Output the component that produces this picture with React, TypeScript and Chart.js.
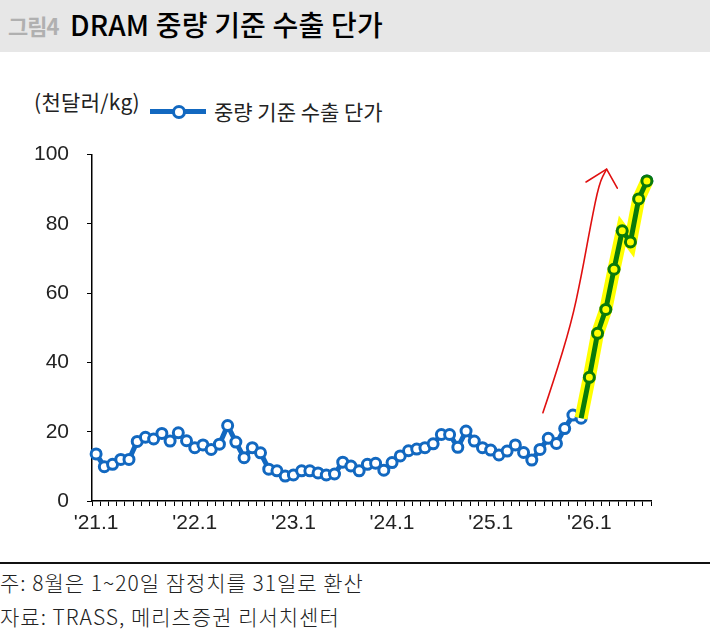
import { useEffect, useRef } from 'react';
import { Chart, registerables } from 'chart.js';

Chart.register(...registerables);

const months = [
  "'21.1", "'21.2", "'21.3", "'21.4", "'21.5", "'21.6", "'21.7", "'21.8", "'21.9", "'21.10", "'21.11", "'21.12",
  "'22.1", "'22.2", "'22.3", "'22.4", "'22.5", "'22.6", "'22.7", "'22.8", "'22.9", "'22.10", "'22.11", "'22.12",
  "'23.1", "'23.2", "'23.3", "'23.4", "'23.5", "'23.6", "'23.7", "'23.8", "'23.9", "'23.10", "'23.11", "'23.12",
  "'24.1", "'24.2", "'24.3", "'24.4", "'24.5", "'24.6", "'24.7", "'24.8", "'24.9", "'24.10", "'24.11", "'24.12",
  "'25.1", "'25.2", "'25.3", "'25.4", "'25.5", "'25.6", "'25.7", "'25.8", "'25.9", "'25.10", "'25.11", "'25.12",
  "'26.1", "'26.2", "'26.3", "'26.4", "'26.5", "'26.6", "'26.7", "'26.8",
];

// 천달러/kg
const unitPrice = [
  13.6, 9.9, 10.6, 12.0, 12.0, 17.2, 18.4, 17.9, 19.5, 17.3, 19.7, 17.4,
  15.4, 16.2, 14.9, 16.4, 21.8, 17.0, 12.5, 15.4, 13.9, 9.2, 8.7, 7.2,
  7.5, 8.7, 8.7, 8.1, 7.5, 7.8, 11.2, 10.1, 8.7, 10.6, 10.9, 8.9,
  11.1, 13.0, 14.5, 15.0, 15.4, 16.5, 19.2, 19.2, 15.5, 20.2, 17.3, 15.4,
  14.7, 13.3, 14.4, 16.2, 14.0, 11.8, 14.9, 18.1, 16.6, 20.9, 24.8, 23.9,
  35.7, 48.4, 55.3, 66.9, 78.0, 74.8, 87.2, 92.4,
];

const highlightFrom = 59;
const yTicks = [0, 20, 40, 60, 80, 100];

// hand-drawn red arrow, in (category index, value)
const arrowPath = [
  [54.35, 25.5], [55.7, 34.9], [57.8, 51.4], [59.0, 64.6], [60.2, 80.2], [61.2, 91.8], [62.1, 95.8],
];
const arrowHead = [[59.6, 92.1], [62.1, 95.8], [63.4, 90.3]];

const BLUE = '#1268c0';
const tickFont = { family: "'Liberation Sans', Arial, sans-serif", size: 21 };

const arrowPlugin = {
  id: 'redArrow',
  afterDatasetsDraw(chart: any) {
    const { ctx, scales } = chart;
    const px = (p: number[]) => [scales.x.getPixelForValue(p[0]), scales.y.getPixelForValue(p[1])];
    ctx.save();
    ctx.strokeStyle = '#e01010';
    ctx.lineWidth = 1.6;
    ctx.lineJoin = 'round';
    ctx.lineCap = 'round';
    ctx.beginPath();
    const pts = arrowPath.map(px);
    ctx.moveTo(pts[0][0], pts[0][1]);
    for (let i = 1; i < pts.length - 1; i++) {
      const mx = (pts[i][0] + pts[i + 1][0]) / 2;
      const my = (pts[i][1] + pts[i + 1][1]) / 2;
      ctx.quadraticCurveTo(pts[i][0], pts[i][1], mx, my);
    }
    const last = pts[pts.length - 1];
    ctx.lineTo(last[0], last[1]);
    ctx.stroke();
    const head = arrowHead.map(px);
    ctx.beginPath();
    ctx.moveTo(head[0][0], head[0][1]);
    ctx.lineTo(head[1][0], head[1][1]);
    ctx.lineTo(head[2][0], head[2][1]);
    ctx.stroke();
    ctx.restore();
  },
};

const PriceChart = () => {
  const canvasRef = useRef<HTMLCanvasElement>(null);
  const chartRef = useRef<Chart | null>(null);

  useEffect(() => {
    if (!canvasRef.current) return;
    if (chartRef.current) chartRef.current.destroy();
    const ctx = canvasRef.current.getContext('2d');
    if (!ctx) return;

    const highlight = unitPrice.map((v, i) => (i >= highlightFrom ? v : null));
    // first highlighted month keeps its blue marker
    const greenRadius = unitPrice.map((_v, i) => (i > highlightFrom ? 5 : 0));

    chartRef.current = new Chart(ctx, {
      type: 'line',
      data: {
        labels: months,
        datasets: [
          {
            label: 'highlight-green',
            data: highlight,
            borderColor: '#0a7a0a',
            borderWidth: 5,
            pointRadius: greenRadius,
            pointBorderWidth: 3,
            pointBorderColor: '#0a7a0a',
            pointBackgroundColor: '#ffff00',
            tension: 0,
          },
          {
            label: 'highlight-yellow',
            data: highlight,
            borderColor: '#ffff00',
            borderWidth: 13,
            pointRadius: 0,
            tension: 0,
          },
          {
            label: '중량 기준 수출 단가',
            data: unitPrice,
            borderColor: BLUE,
            borderWidth: 5,
            pointRadius: 5,
            pointBorderWidth: 3,
            pointBorderColor: BLUE,
            pointBackgroundColor: '#ffffff',
            tension: 0,
          },
        ],
      },
      options: {
        responsive: true,
        maintainAspectRatio: false,
        animation: false,
        layout: { autoPadding: false, padding: { top: 0, right: 59, left: 0, bottom: 0 } },
        plugins: {
          legend: { display: false },
          tooltip: { enabled: false },
        },
        scales: {
          x: {
            type: 'category',
            offset: true,
            afterFit: (scale: any) => { scale.height = 44; },
            border: { display: true, color: '#000', width: 1.5 },
            grid: {
              offset: true,
              drawOnChartArea: false,
              drawTicks: true,
              tickLength: 5,
              color: '#000',
              lineWidth: 1,
            },
            ticks: {
              autoSkip: false,
              maxRotation: 0,
              padding: 5,
              color: '#222',
              font: tickFont,
              callback: (_v: any, i: number) => (i % 12 === 0 ? months[i] : ''),
            },
          },
          y: {
            min: 0,
            max: 100,
            afterFit: (scale: any) => { scale.width = 92; },
            afterBuildTicks: (scale: any) => { scale.ticks = yTicks.map(v => ({ value: v })); },
            border: { display: true, color: '#000', width: 1.5 },
            grid: {
              drawOnChartArea: false,
              drawTicks: true,
              tickLength: 5,
              color: '#000',
            },
            ticks: {
              padding: 18,
              color: '#222',
              font: tickFont,
            },
          },
        },
      },
      plugins: [arrowPlugin],
    });

    return () => {
      if (chartRef.current) {
        chartRef.current.destroy();
        chartRef.current = null;
      }
    };
  }, []);

  return <canvas ref={canvasRef} />;
};

const App = () => {
  useEffect(() => {
    document.body.style.margin = '0';
  }, []);

  const kr = "'Noto Sans CJK KR', 'Noto Sans', sans-serif";

  return (
    <div style={{ position: 'relative', width: 710, height: 630, background: '#fff', fontFamily: kr, overflow: 'hidden' }}>
      <div style={{ position: 'absolute', left: 0, top: 0, width: 710, height: 52, background: '#e7e7e7' }}>
        <span style={{ position: 'absolute', left: 8, top: 9, fontSize: 22, fontWeight: 700, color: '#b0b0b0', letterSpacing: -1 }}>그림4</span>
        <span style={{ position: 'absolute', left: 70, top: 4, fontSize: 28, fontWeight: 500, color: '#000', letterSpacing: 0.2 }}>
          DRAM 중량 기준 수출 단가
        </span>
      </div>

      <div style={{ position: 'absolute', left: 34, top: 86, fontSize: 21, color: '#222', letterSpacing: 0.3 }}>(천달러/kg)</div>
      <div style={{ position: 'absolute', left: 150, top: 109, width: 56, height: 5, background: BLUE }}>
        <div style={{ position: 'absolute', left: 22, top: -4.5, width: 8, height: 8, borderRadius: '50%', border: `3px solid ${BLUE}`, background: '#fff' }} />
      </div>
      <div style={{ position: 'absolute', left: 214, top: 96, fontSize: 21, color: '#222' }}>중량 기준 수출 단가</div>

      <div style={{ position: 'absolute', left: 0, top: 124, width: 710, height: 421 }}>
        <PriceChart />
      </div>

      <div style={{ position: 'absolute', left: 0, top: 562, width: 710, height: 2, background: '#111' }} />
      <div style={{ position: 'absolute', left: 0, top: 567, fontSize: 21, color: '#222', letterSpacing: 1, fontWeight: 300 }}>
        주: 8월은 1~20일 잠정치를 31일로 환산
      </div>
      <div style={{ position: 'absolute', left: 0, top: 601, fontSize: 21, color: '#222', letterSpacing: 1, fontWeight: 300 }}>
        자료: TRASS, 메리츠증권 리서치센터
      </div>
    </div>
  );
};

export default App;
